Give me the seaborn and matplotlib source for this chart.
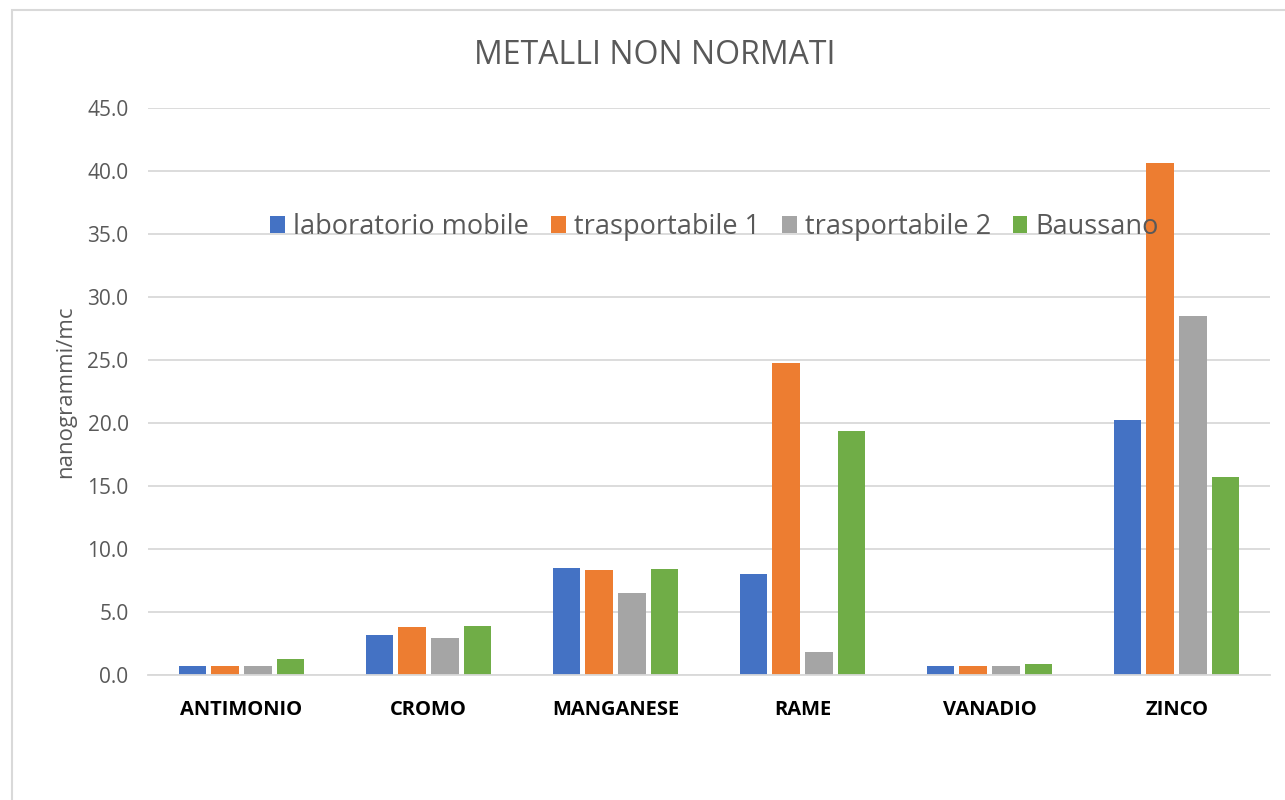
import matplotlib
matplotlib.use("Agg")
import matplotlib.pyplot as plt
import seaborn as sns
import pandas as pd
from matplotlib.patches import Rectangle

categories = ["ANTIMONIO", "CROMO", "MANGANESE", "RAME", "VANADIO", "ZINCO"]
series_names = ["laboratorio mobile", "trasportabile 1", "trasportabile 2", "Baussano"]
lab_mobile = [0.7, 3.2, 8.5, 8.0, 0.7, 20.2]
trasp_1 = [0.7, 3.8, 8.3, 24.8, 0.7, 40.6]
trasp_2 = [0.7, 2.9, 6.5, 1.8, 0.7, 28.5]
baussano = [1.3, 3.9, 8.4, 19.4, 0.9, 15.7]
y_ticks = [0, 5, 10, 15, 20, 25, 30, 35, 40, 45]
colors = ["#4472C4", "#ED7D31", "#A5A5A5", "#70AD47"]

rows = []
for name, vals in zip(series_names, [lab_mobile, trasp_1, trasp_2, baussano]):
    for c, v in zip(categories, vals):
        rows.append({"cat": c, "serie": name, "val": v})
df = pd.DataFrame(rows)

sns.set_theme(style="white")
plt.rcParams['font.family'] = ['Open Sans', 'DejaVu Sans']
text_color = "#595959"

fig = plt.figure(figsize=(12.85, 8.0), dpi=100)
ax = fig.add_axes([148/1285, 1 - 675/800, (1270-148)/1285, (675-108)/800])

sns.barplot(data=df, x="cat", y="val", hue="serie", order=categories,
            hue_order=series_names, palette=colors, width=0.70, gap=0.16,
            saturation=1, ax=ax, edgecolor="none")

ax.set_ylim(0, 45)
ax.set_yticks(y_ticks)
ax.set_yticklabels([f"{t:.1f}" for t in y_ticks], color=text_color, fontsize=15)
ax.set_xlim(-0.5, len(categories) - 0.5)
ax.set_xticks(range(len(categories)))
ax.set_xticklabels(categories, fontweight="bold", fontsize=14.5, color="black")
ax.tick_params(axis="both", length=0)
ax.tick_params(axis="x", pad=18)
ax.tick_params(axis="y", pad=14)
ax.set_xlabel("")
ax.set_ylabel("nanogrammi/mc", fontsize=16, color=text_color, labelpad=8)
ax.yaxis.grid(True, color="#D9D9D9", linewidth=1.3)
ax.set_axisbelow(True)
for s in ["top", "right", "left"]:
    ax.spines[s].set_visible(False)
ax.spines["bottom"].set_color("#D9D9D9")
ax.spines["bottom"].set_linewidth(1.3)

leg = ax.legend(loc="center", bbox_to_anchor=(0.505, 0.79), ncol=4, frameon=False,
                fontsize=19.5, handlelength=0.55, handleheight=0.6, handletextpad=0.3,
                columnspacing=0.8, labelcolor=text_color)

fig.text(655/1285, 1 - 55/800, "METALLI NON NORMATI", ha="center", va="center",
         fontsize=23, color=text_color)

fig.patches.append(Rectangle((12/1285, -0.1), 1.2, 1 - 10/800 + 0.1,
                             transform=fig.transFigure, fill=False,
                             edgecolor="#D9D9D9", linewidth=1.5))

fig.savefig("out.png", dpi=100, facecolor="white")
